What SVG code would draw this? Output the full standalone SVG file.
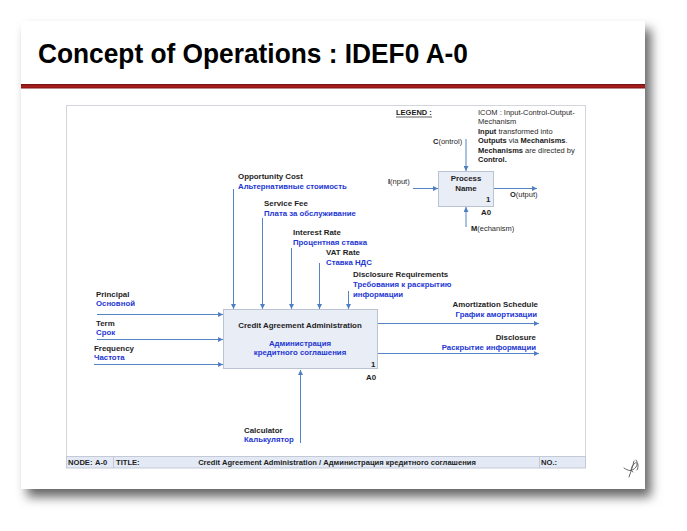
<svg xmlns="http://www.w3.org/2000/svg" width="687" height="531" viewBox="0 0 687 531">
<defs>
<filter id="shadow" x="-10%" y="-10%" width="125%" height="130%">
<feDropShadow dx="6" dy="8" stdDeviation="5.5" flood-color="#000" flood-opacity="0.6"/>
</filter>
<marker id="arrow" markerWidth="5" markerHeight="5" refX="5" refY="2.5" orient="auto" markerUnits="userSpaceOnUse">
<path d="M0,0 L5,2.5 L0,5 z" fill="#4f7fc0"/>
</marker>
<linearGradient id="redline" x1="0" y1="0" x2="0" y2="1">
<stop offset="0" stop-color="#6e1010"/>
<stop offset="0.5" stop-color="#b01e1e"/>
<stop offset="1" stop-color="#7a1212"/>
</linearGradient>
<style>
.lbl{font-family:"Liberation Sans",Arial,sans-serif;font-weight:bold;font-size:7.9px;fill:#1e1e1e}
.ru{font-family:"Liberation Sans",Arial,sans-serif;font-weight:bold;font-size:7.8px;fill:#2336d4}
.leg{font-family:"Liberation Sans",Arial,sans-serif;font-size:7.5px;fill:#2a2a2a}
.legb{font-weight:bold;fill:#1a1a1a}
.bar{font-family:"Liberation Sans",Arial,sans-serif;font-weight:bold;font-size:7.6px;fill:#1e1e1e}
.conn{stroke:#5585c5;stroke-width:1;fill:none}
.arr{marker-end:url(#arrow)}
.box{fill:#e8edf6;stroke:#b9c3d3;stroke-width:1}
</style>
</defs>

<!-- slide -->
<rect x="21" y="21" width="624" height="468" fill="#ffffff" filter="url(#shadow)"/>
<text x="38" y="63" font-family="'Liberation Sans',Arial,sans-serif" font-weight="bold" font-size="28" fill="#000" textLength="430" lengthAdjust="spacingAndGlyphs">Concept of Operations : IDEF0 A-0</text>
<rect x="21" y="84" width="624" height="4.5" fill="url(#redline)"/>

<!-- frame -->
<rect x="66.5" y="105.5" width="519" height="362" fill="#ffffff" stroke="#d2d6dc" stroke-width="1"/>

<!-- legend -->
<g id="legend">
<text class="leg legb" x="396" y="115">LEGEND :</text>
<line x1="396" y1="117" x2="432" y2="117" stroke="#1a1a1a" stroke-width="0.7"/>
<text class="leg" x="478" y="115">ICOM : Input-Control-Output-</text>
<text class="leg" x="478" y="124">Mechanism</text>
<text class="leg" x="478" y="133.5"><tspan class="legb">Input</tspan> transformed into</text>
<text class="leg" x="478" y="143"><tspan class="legb">Outputs</tspan> via <tspan class="legb">Mechanisms</tspan>.</text>
<text class="leg" x="478" y="152.5"><tspan class="legb">Mechanisms</tspan> are directed by</text>
<text class="leg" x="478" y="162"><tspan class="legb">Control.</tspan></text>
<text class="leg" x="433" y="144"><tspan class="legb">C</tspan>(ontrol)</text>
<text class="leg" x="388" y="184"><tspan class="legb">I</tspan>(nput)</text>
<text class="leg" x="510" y="197"><tspan class="legb">O</tspan>(utput)</text>
<text class="leg" x="471" y="231"><tspan class="legb">M</tspan>(echanism)</text>
</g>

<g id="legend-process">
<rect class="box" x="438.5" y="171.5" width="55" height="35"/>
<text class="lbl" x="466" y="181" text-anchor="middle">Process</text>
<text class="lbl" x="466" y="190.5" text-anchor="middle">Name</text>
<text class="lbl" x="486" y="202">1</text>
<text class="lbl" x="481" y="215">A0</text>
</g>

<!-- main node -->
<g id="node-a0">
<rect class="box" x="223.5" y="309.5" width="154" height="59"/>
<text class="lbl" x="300" y="327.5" text-anchor="middle">Credit Agreement Administration</text>
<text class="ru" x="300" y="346" text-anchor="middle">Администрация</text>
<text class="ru" x="300" y="355" text-anchor="middle">кредитного соглашения</text>
<text class="lbl" x="371" y="366.5">1</text>
<text class="lbl" x="366" y="380">A0</text>
</g>

<!-- connectors -->
<g id="connectors">
<line class="conn arr" x1="466" y1="139" x2="466" y2="171"/>
<line class="conn arr" x1="413" y1="188.5" x2="438" y2="188.5"/>
<line class="conn arr" x1="494" y1="188.5" x2="537" y2="188.5"/>
<line class="conn arr" x1="466" y1="227" x2="466" y2="207"/>

<line class="conn arr" x1="233.5" y1="189" x2="233.5" y2="309"/>
<line class="conn arr" x1="262.5" y1="218" x2="262.5" y2="309"/>
<line class="conn arr" x1="291.5" y1="248" x2="291.5" y2="309"/>
<line class="conn arr" x1="319.5" y1="263" x2="319.5" y2="309"/>
<line class="conn arr" x1="348.5" y1="291" x2="348.5" y2="309"/>

<line class="conn arr" x1="97" y1="314.5" x2="223" y2="314.5"/>
<line class="conn arr" x1="97" y1="339.5" x2="223" y2="339.5"/>
<line class="conn arr" x1="94" y1="364.5" x2="223" y2="364.5"/>

<line class="conn arr" x1="378" y1="323.5" x2="539" y2="323.5"/>
<line class="conn arr" x1="378" y1="353.5" x2="539" y2="353.5"/>

<line class="conn arr" x1="300.5" y1="443" x2="300.5" y2="370"/>
</g>

<!-- connector labels -->
<g id="labels">
<text class="lbl" x="238" y="179">Opportunity Cost</text>
<text class="ru" x="238" y="188.5">Альтернативные стоимость</text>
<text class="lbl" x="264" y="206">Service Fee</text>
<text class="ru" x="264" y="215.5">Плата за обслуживание</text>
<text class="lbl" x="293" y="235">Interest Rate</text>
<text class="ru" x="293" y="244.5">Процентная ставка</text>
<text class="lbl" x="326" y="255">VAT Rate</text>
<text class="ru" x="326" y="264.5">Ставка НДС</text>
<text class="lbl" x="353" y="277">Disclosure Requirements</text>
<text class="ru" x="353" y="287">Требования к раскрытию</text>
<text class="ru" x="353" y="296.5">информации</text>

<text class="lbl" x="96" y="297">Principal</text>
<text class="ru" x="96" y="306">Основной</text>
<text class="lbl" x="96" y="326">Term</text>
<text class="ru" x="96" y="335">Срок</text>
<text class="lbl" x="94" y="351">Frequency</text>
<text class="ru" x="94" y="360">Частота</text>

<text class="lbl" x="538" y="307" text-anchor="end">Amortization Schedule</text>
<text class="ru" x="537" y="317" text-anchor="end">График амортизации</text>
<text class="lbl" x="536" y="340" text-anchor="end">Disclosure</text>
<text class="ru" x="536" y="349.5" text-anchor="end">Раскрытие информации</text>

<text class="lbl" x="244" y="433">Calculator</text>
<text class="ru" x="244" y="442">Калькулятор</text>
</g>

<!-- title bar -->
<g id="title-bar">
<rect x="66.5" y="456.5" width="519" height="11.5" fill="#e3eaf6" stroke="#c3cad6" stroke-width="1"/>
<line x1="113.5" y1="456.5" x2="113.5" y2="468" stroke="#c3cad6"/>
<line x1="539.5" y1="456.5" x2="539.5" y2="468" stroke="#c3cad6"/>
<text class="bar" x="68" y="465">NODE:<tspan x="95">A-0</tspan></text>
<text class="bar" x="116" y="465">TITLE:</text>
<text class="bar" x="337" y="465" text-anchor="middle">Credit Agreement Administration / Администрация кредитного соглашения</text>
<text class="bar" x="541" y="465">NO.:</text>
</g>

<!-- signature mark -->
<g id="signature" fill="none" stroke="#555" stroke-width="0.9" stroke-linecap="round">
<path d="M634,461 C633,466 631,471 629,477"/>
<path d="M624,468 C628,471 632,472 636,467 C638,464 637,461 634,464 C631,467 630,471 633,472"/>
<path d="M636,460 C638,463 639,467 637,470"/>
</g>
</svg>
